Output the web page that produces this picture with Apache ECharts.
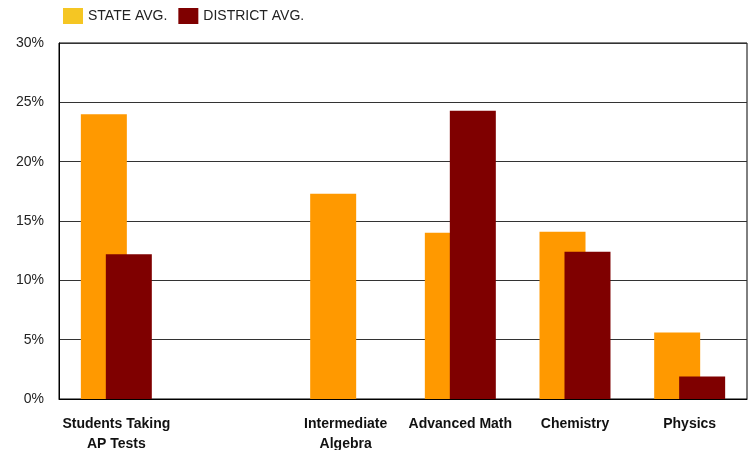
<!DOCTYPE html>
<html><head><meta charset="utf-8">
<script src="https://cdn.jsdelivr.net/npm/echarts@6/dist/echarts.min.js"></script>
<style>html,body{margin:0;padding:0;background:#fff}#c{width:752px;height:450px}</style>
</head><body><div id="c"></div>
<script>
const categories = ['Students Taking\nAP Tests', '', 'Intermediate\nAlgebra', 'Advanced Math', 'Chemistry', 'Physics'];
const stateAvg = [24.0, null, 17.3, 14.0, 14.1, 5.6];
const districtAvg = [12.2, null, null, 24.3, 12.4, 1.9];
const yTicks = [0, 5, 10, 15, 20, 25, 30];

const chart = echarts.init(document.getElementById('c'), null, {renderer: 'canvas'});
chart.setOption({
  animation: false,
  textStyle: {fontFamily: 'Liberation Sans, Arial, sans-serif'},
  legend: {
    left: 63, top: 8, padding: 0, itemWidth: 20, itemHeight: 16, itemGap: 11, icon: 'rect',
    textStyle: {fontSize: 14, color: '#222', fontFamily: 'Liberation Sans, Arial, sans-serif'},
    data: [
      {name: 'STATE AVG.', itemStyle: {color: '#F5C623'}},
      {name: 'DISTRICT AVG.', itemStyle: {color: '#7F0000'}}
    ]
  },
  grid: {left: 59, right: 5, top: 43, bottom: 51, outerBoundsMode: 'none', containLabel: false, show: true, borderColor: '#000', borderWidth: 1},
  xAxis: {
    type: 'category', data: categories,
    axisLine: {lineStyle: {color: '#000', width: 1}},
    axisTick: {show: false},
    axisLabel: {fontSize: 14, fontWeight: 'bold', color: '#111', margin: 15, lineHeight: 20, interval: 0}
  },
  yAxis: {
    type: 'value', min: yTicks[0], max: yTicks[yTicks.length - 1], interval: 5,
    axisLine: {show: true, lineStyle: {color: '#000'}},
    axisTick: {show: false},
    splitLine: {lineStyle: {color: '#333', width: 1}},
    axisLabel: {fontSize: 14, color: '#222', margin: 15, formatter: v => v + '%'}
  },
  series: [
    {name: 'STATE AVG.', type: 'bar', data: stateAvg, barWidth: 46, barGap: '-45.7%', itemStyle: {color: '#FF9900'}},
    {name: 'DISTRICT AVG.', type: 'bar', data: districtAvg, barWidth: 46, barGap: '-45.7%', itemStyle: {color: '#7F0000'}}
  ]
});
</script></body></html>
